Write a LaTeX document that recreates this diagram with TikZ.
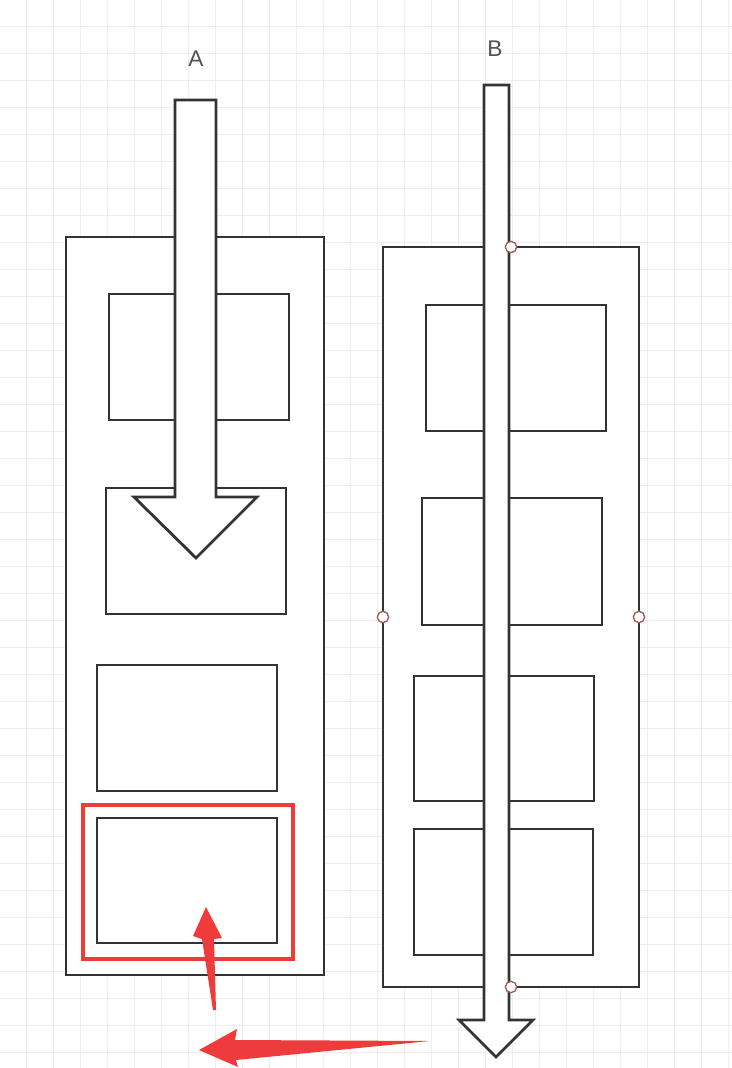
\documentclass[tikz,border=0pt]{standalone}
\usepackage{fontspec}
\setmainfont{Liberation Sans}
\definecolor{ink}{HTML}{333333}
\definecolor{gridc}{HTML}{EEEEEE}
\definecolor{mark}{HTML}{EE3B3B}
\definecolor{handle}{HTML}{A85858}
\tikzset{
  box/.style={draw=ink, line width=2.1pt, fill=white},
  bigarrow/.style={draw=ink, line width=2.1pt, fill=white, line join=miter},
  redframe/.style={draw=mark, line width=3.4pt},
  redarrow/.style={fill=mark, draw=none},
  handlemark/.style={circle, draw=handle, fill=white, line width=1pt, minimum size=8.5pt, inner sep=0pt},
  lbl/.style={text=ink!85, font=\fontsize{17}{17}\selectfont}
}
\begin{document}
\begin{tikzpicture}[x=0.75pt, y=-0.75pt]
\useasboundingbox[fill=white] (0,0) rectangle (732,1068);
% grid
\foreach \k in {0,...,26} \draw[gridc, line width=1pt] ({26.5+27*\k},0) -- ({26.5+27*\k},1068);
\foreach \k in {0,...,38} \draw[gridc, line width=1pt] (0,{26.5+27*\k}) -- (732,{26.5+27*\k});
% labels
\node[lbl] (la) at (196,59) {A};
\node[lbl] (lb) at (495,49) {B};
% column A
\draw[box] (66,237) rectangle (324,975);
\draw[box] (109,294) rectangle (289,420);
\draw[box] (106,488) rectangle (286,614);
\draw[box] (97,665) rectangle (277,791);
\draw[box] (97,818) rectangle (277,943);
\draw[redframe] (83,805) rectangle (293,959);
% arrow A
\draw[bigarrow] (175,100) -- (216,100) -- (216,497) -- (257,497) -- (196,558) -- (134,497) -- (175,497) -- cycle;
% column B
\draw[box] (383,247) rectangle (639,987);
\draw[box] (426,305) rectangle (606,431);
\draw[box] (422,498) rectangle (602,625);
\draw[box] (414,676) rectangle (594,801);
\draw[box] (414,829) rectangle (593,955);
% arrow B
\draw[bigarrow] (484,85) -- (509,85) -- (509,1020) -- (533,1020) -- (496,1057) -- (459,1020) -- (484,1020) -- cycle;
% selection handles
\node[handlemark] (h1) at (511,247) {};
\node[handlemark] (h2) at (383,617) {};
\node[handlemark] (h3) at (639,617) {};
\node[handlemark] (h4) at (511,987) {};
% red annotation arrows
\fill[redarrow] (206,907) -- (222,938) -- (214,939) -- (216,1010) -- (213,1010) -- (202,939) -- (193,936) -- cycle;
\fill[redarrow] (199,1050) -- (237,1029) -- (235,1040) -- (430,1041) -- (236,1060) -- (238,1067) -- cycle;
\end{tikzpicture}
\end{document}
